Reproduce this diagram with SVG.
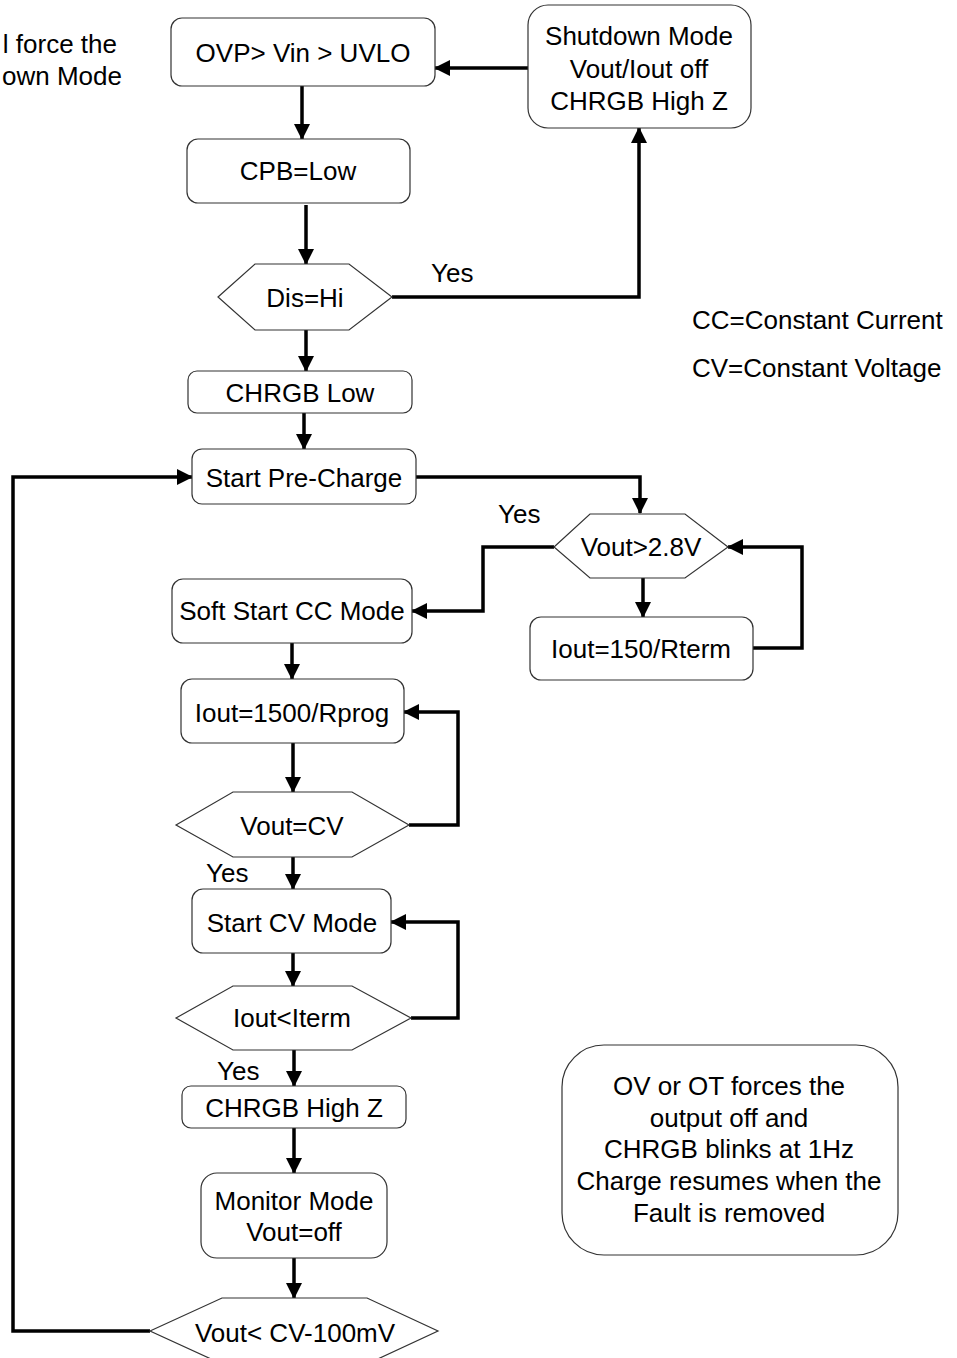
<svg xmlns="http://www.w3.org/2000/svg" width="957" height="1358" viewBox="0 0 957 1358">
<style>
.t{font-family:"Liberation Sans",Arial,sans-serif;font-size:26px;fill:#000;text-anchor:middle}
.l{font-family:"Liberation Sans",Arial,sans-serif;font-size:26px;fill:#000}
.b{fill:#fff;stroke:#333;stroke-width:1.2}
.c{fill:none;stroke:#000;stroke-width:3.5}
</style>
<defs>
<marker id="ah" markerUnits="userSpaceOnUse" markerWidth="18" markerHeight="18" refX="15" refY="8" orient="auto">
<path d="M0,0 L16,8 L0,16 z" fill="#000"/>
</marker>
</defs>
<rect width="957" height="1358" fill="#fff"/>
<g id="sidenote">
<text class="l" x="117" y="53" text-anchor="end">l force the</text>
<text class="l" x="122" y="85" text-anchor="end">own Mode</text>
</g>
<g id="legend">
<text class="l" x="692" y="329">CC=Constant Current</text>
<text class="l" x="692" y="377">CV=Constant Voltage</text>
</g>
<g id="connectors">
<path class="c" d="M302,86 V139" marker-end="url(#ah)"/>
<path class="c" d="M306,205 V264" marker-end="url(#ah)"/>
<path class="c" d="M306,330 V371" marker-end="url(#ah)"/>
<path class="c" d="M392,297 H639 V128" marker-end="url(#ah)"/>
<path class="c" d="M528,68 H435" marker-end="url(#ah)"/>
<path class="c" d="M304,413 V449" marker-end="url(#ah)"/>
<path class="c" d="M416,477 H640 V513" marker-end="url(#ah)"/>
<path class="c" d="M554,547 H483 V611 H412" marker-end="url(#ah)"/>
<path class="c" d="M643,578 V617" marker-end="url(#ah)"/>
<path class="c" d="M753,648 H802 V547 H728" marker-end="url(#ah)"/>
<path class="c" d="M292,643 V679" marker-end="url(#ah)"/>
<path class="c" d="M293,743 V792" marker-end="url(#ah)"/>
<path class="c" d="M409,825 H458 V712 H404" marker-end="url(#ah)"/>
<path class="c" d="M293,857 V889" marker-end="url(#ah)"/>
<path class="c" d="M293,953 V986" marker-end="url(#ah)"/>
<path class="c" d="M411,1018 H458 V922 H391" marker-end="url(#ah)"/>
<path class="c" d="M294,1050 V1086" marker-end="url(#ah)"/>
<path class="c" d="M294,1128 V1173" marker-end="url(#ah)"/>
<path class="c" d="M294,1258 V1298" marker-end="url(#ah)"/>
<path class="c" d="M150,1331 H13 V477 H192" marker-end="url(#ah)"/>
<text class="l" x="431" y="282">Yes</text>
<text class="l" x="498" y="523">Yes</text>
<text class="l" x="206" y="882">Yes</text>
<text class="l" x="217" y="1080">Yes</text>
</g>
<g id="ovp">
<rect class="b" x="171" y="18" width="264" height="68" rx="11"/>
<text class="t" x="303" y="62">OVP&gt; Vin &gt; UVLO</text>
</g>
<g id="shutdown">
<rect class="b" x="528" y="5" width="223" height="123" rx="20"/>
<text class="t" x="639" y="45">Shutdown Mode</text>
<text class="t" x="639" y="78">Vout/Iout off</text>
<text class="t" x="639" y="110">CHRGB High Z</text>
</g>
<g id="cpb">
<rect class="b" x="187" y="139" width="223" height="64" rx="11"/>
<text class="t" x="298" y="180">CPB=Low</text>
</g>
<g id="dis">
<polygon class="b" points="218,297 255,264 349,264 392,297 349,330 255,330"/>
<text class="t" x="305" y="307">Dis=Hi</text>
</g>
<g id="chrgblow">
<rect class="b" x="188" y="371" width="224" height="42" rx="9"/>
<text class="t" x="300" y="402">CHRGB Low</text>
</g>
<g id="precharge">
<rect class="b" x="192" y="449" width="224" height="55" rx="10"/>
<text class="t" x="304" y="487">Start Pre-Charge</text>
</g>
<g id="vout28">
<polygon class="b" points="554,547 590,514 685,514 728,547 685,578 590,578"/>
<text class="t" x="641" y="556">Vout&gt;2.8V</text>
</g>
<g id="iout150">
<rect class="b" x="530" y="617" width="223" height="63" rx="11"/>
<text class="t" x="641" y="658">Iout=150/Rterm</text>
</g>
<g id="softstart">
<rect class="b" x="172" y="579" width="240" height="64" rx="11"/>
<text class="t" x="292" y="620">Soft Start CC Mode</text>
</g>
<g id="iout1500">
<rect class="b" x="181" y="679" width="223" height="64" rx="11"/>
<text class="t" x="292" y="722">Iout=1500/Rprog</text>
</g>
<g id="voutcv">
<polygon class="b" points="176,825 233,792 352,792 409,825 352,857 233,857"/>
<text class="t" x="292" y="835">Vout=CV</text>
</g>
<g id="startcv">
<rect class="b" x="192" y="889" width="199" height="64" rx="11"/>
<text class="t" x="292" y="932">Start CV Mode</text>
</g>
<g id="ioutiterm">
<polygon class="b" points="176,1018 233,986 352,986 411,1018 352,1050 233,1050"/>
<text class="t" x="292" y="1027">Iout&lt;Iterm</text>
</g>
<g id="chrgbhighz">
<rect class="b" x="182" y="1086" width="224" height="42" rx="9"/>
<text class="t" x="294" y="1117">CHRGB High Z</text>
</g>
<g id="monitor">
<rect class="b" x="201" y="1173" width="186" height="85" rx="16"/>
<text class="t" x="294" y="1210">Monitor Mode</text>
<text class="t" x="294" y="1241">Vout=off</text>
</g>
<g id="voutcv100">
<polygon class="b" points="150,1331 222,1298 367,1298 438,1331 367,1364 222,1364"/>
<text class="t" x="295" y="1342">Vout&lt; CV-100mV</text>
</g>
<g id="faultnote">
<rect class="b" x="562" y="1045" width="336" height="210" rx="42"/>
<text class="t" x="729" y="1095">OV or OT forces the</text>
<text class="t" x="729" y="1127">output off and</text>
<text class="t" x="729" y="1158">CHRGB blinks at 1Hz</text>
<text class="t" x="729" y="1190">Charge resumes when the</text>
<text class="t" x="729" y="1222">Fault is removed</text>
</g>
</svg>
